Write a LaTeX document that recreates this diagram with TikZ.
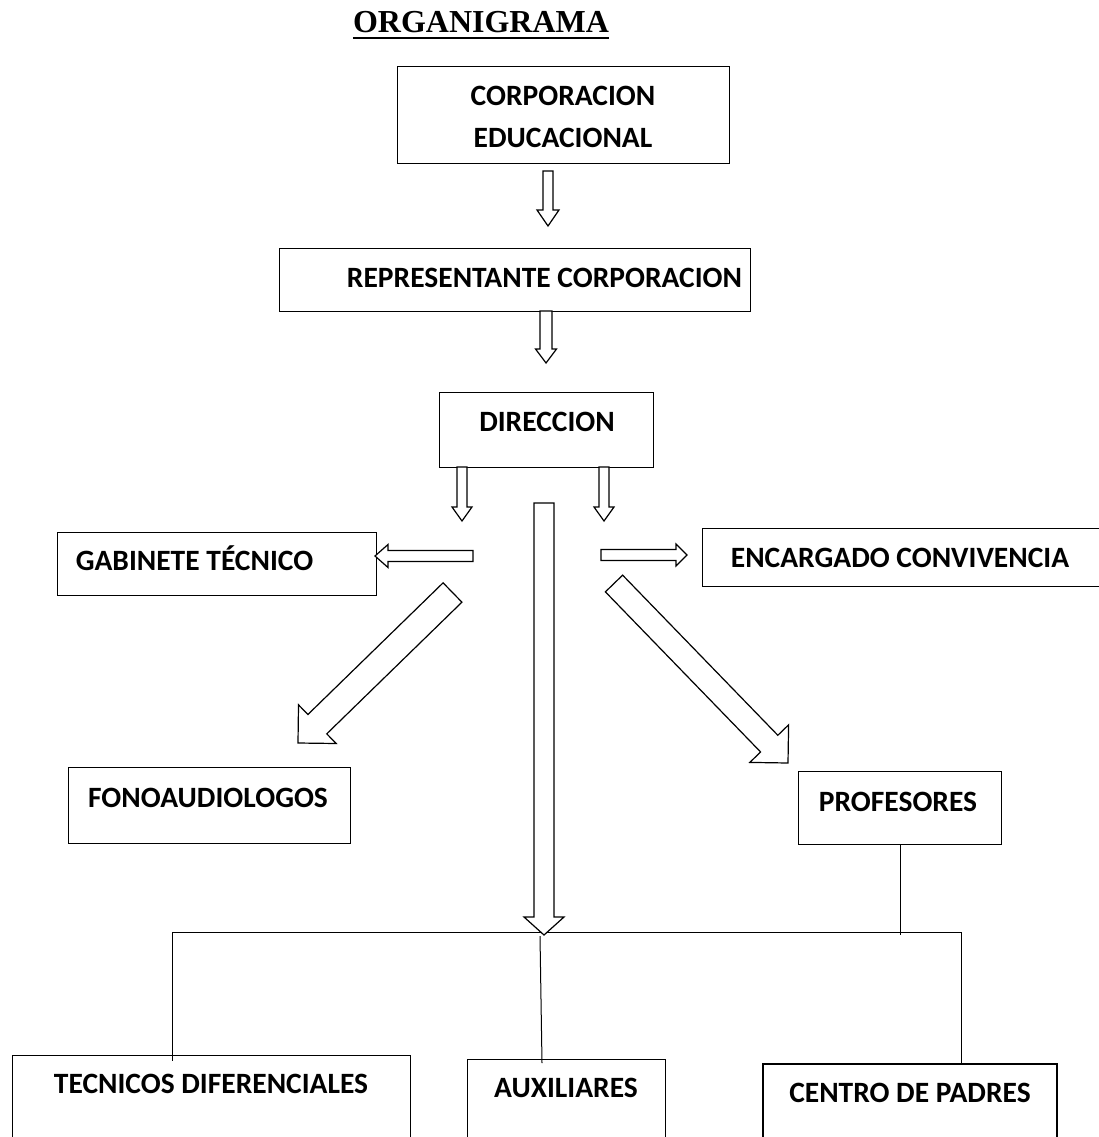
\documentclass[tikz,border=0pt]{standalone}
\usepackage{fontspec}
\setmainfont{Liberation Serif}
\newfontfamily\boxfont{Carlito}
\usetikzlibrary{calc}
\tikzset{
  box/.style={draw, line width=1.4pt, rectangle, inner sep=0pt, anchor=north west},
  thinbox/.style={box, line width=1pt},
  lbl/.style={font=\boxfont\bfseries\fontsize{29.5}{34}\selectfont, anchor=base, inner sep=0pt},
  arrowline/.style={draw, line width=1.2pt, line join=miter, fill=white},
  conn/.style={draw, line width=1pt},
}
% #1 start, #2 tip, #3 shaft half width, #4 head half width, #5 head length
\newcommand{\blockarrow}[5]{%
  \coordinate (hb) at ($(#2)!#5!(#1)$);
  \path[arrowline] ($(#1)!#3!90:(#2)$) -- ($(hb)!#3!90:(#2)$) -- ($(hb)!#4!90:(#2)$)
    -- (#2) -- ($(hb)!#4!-90:(#2)$) -- ($(hb)!#3!-90:(#2)$) -- ($(#1)!#3!-90:(#2)$) -- cycle;
}
\begin{document}
\begin{tikzpicture}[x=1pt, y=-1pt]
\useasboundingbox (0,0) rectangle (1099,1137);

% title
\node[font=\bfseries\fontsize{32}{38}\selectfont, anchor=base, inner sep=0pt] (title) at (481,33) {ORGANIGRAMA};
\draw[line width=2pt] ([yshift=-5pt]title.base west) -- ([yshift=-5pt]title.base east);

% boxes
\node[box, minimum width=332pt, minimum height=97pt] (corp) at (397,66) {};
\node[lbl] (corpT1) at (563,106) {CORPORACION};
\node[lbl] (corpT2) at (563,147) {EDUCACIONAL};

\node[box, minimum width=471pt, minimum height=63pt] (rep) at (279,248) {};
\node[lbl] (repT) at (544.5,287) {REPRESENTANTE CORPORACION};

\node[box, minimum width=214pt, minimum height=75pt] (dir) at (439,392) {};
\node[lbl] (dirT) at (547,431) {DIRECCION};

\node[box, minimum width=319pt, minimum height=63pt] (gab) at (57,532) {};
\node[lbl] (gabT) at (194.5,570) {GABINETE TÉCNICO};

\node[thinbox, minimum width=402pt, minimum height=58pt] (enc) at (702,528) {};
\node[lbl] (encT) at (900,567) {ENCARGADO CONVIVENCIA};

\node[box, minimum width=282pt, minimum height=76pt] (fono) at (68,767) {};
\node[lbl] (fonoT) at (208,807) {FONOAUDIOLOGOS};

\node[box, minimum width=203pt, minimum height=73pt] (prof) at (798,771) {};
\node[lbl] (profT) at (898,811) {PROFESORES};

\node[thinbox, minimum width=398pt, minimum height=100pt] (tec) at (12,1055) {};
\node[lbl] (tecT) at (211,1093) {TECNICOS DIFERENCIALES};

\node[box, minimum width=198pt, minimum height=100pt] (aux) at (467,1059) {};
\node[lbl] (auxT) at (566,1097) {AUXILIARES};

\node[box, line width=1.8pt, minimum width=294pt, minimum height=100pt] (cen) at (762,1063) {};
\node[lbl] (cenT) at (910,1102) {CENTRO DE PADRES};

% bus lines
\coordinate (busL) at (172,932);
\coordinate (busR) at (961,932);
\coordinate (busM) at (540,936);
\draw[conn] (busL) -- (busR);
\draw[conn] (busL) -- ($(busL |- tec.north)+(0,6)$);
\draw[conn] (busM) -- ($(busM |- aux.north)+(2,4)$);
\draw[conn] (busR) -- (busR |- cen.north);
\draw[conn] (prof.south) -- ($(prof.south |- busL)+(0,3)$);

% block arrows
\coordinate (a1s) at (548,171);  \coordinate (a1e) at (548,226);
\coordinate (a2s) at (546,311);  \coordinate (a2e) at (546,363);
\coordinate (a3s) at (462,467);  \coordinate (a3e) at (462,521);
\coordinate (a4s) at (604,467);  \coordinate (a4e) at (604,521);
\coordinate (a5s) at (544,503);  \coordinate (a5e) at (544,935);
\coordinate (a6s) at (473,556);  \coordinate (a6e) at (375,556);
\coordinate (a7s) at (601,555);  \coordinate (a7e) at (687,555);
\coordinate (a8s) at (452.5,592.5); \coordinate (a8e) at (298,743);
\coordinate (a9s) at (614,583.5); \coordinate (a9e) at (788,763);

\blockarrow{a1s}{a1e}{5pt}{11pt}{16pt}
\blockarrow{a2s}{a2e}{6pt}{10.5pt}{14pt}
\blockarrow{a3s}{a3e}{5pt}{10pt}{14pt}
\blockarrow{a4s}{a4e}{5pt}{10pt}{14pt}
\blockarrow{a5s}{a5e}{10pt}{20pt}{18pt}
\blockarrow{a6s}{a6e}{5.5pt}{11.5pt}{13pt}
\blockarrow{a7s}{a7e}{5.5pt}{11pt}{11pt}
\blockarrow{a8s}{a8e}{13.5pt}{27pt}{27pt}
\blockarrow{a9s}{a9e}{12pt}{27pt}{27pt}
\end{tikzpicture}
\end{document}
